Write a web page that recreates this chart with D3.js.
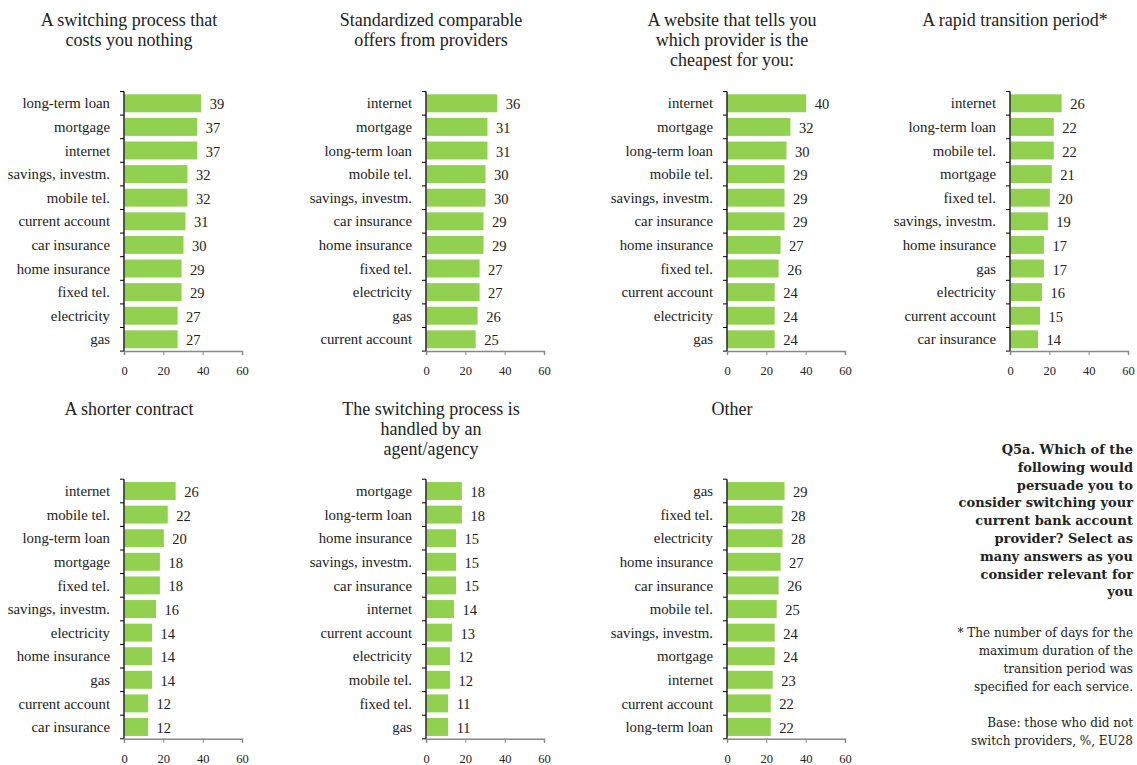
<!DOCTYPE html>
<html>
<head>
<meta charset="utf-8">
<script src="https://cdn.jsdelivr.net/npm/d3@7"></script>
<style>
  html, body { margin: 0; padding: 0; background: #fff; }
  svg { display: block; }
  text { font-family: "Liberation Serif", "DejaVu Serif", serif; fill: #222; }
</style>
</head>
<body>
<svg id="chart" width="1137" height="765"></svg>
<script>
// Share of respondents (%) persuaded by each measure, per service
const titles = [
  ["A switching process that", "costs you nothing"],
  ["Standardized comparable", "offers from providers"],
  ["A website that tells you", "which provider is the", "cheapest for you:"],
  ["A rapid transition period*"],
  ["A shorter contract"],
  ["The switching process is", "handled by an", "agent/agency"],
  ["Other"]
];

const costsNothingCats = ["long-term loan", "mortgage", "internet", "savings, investm.", "mobile tel.", "current account", "car insurance", "home insurance", "fixed tel.", "electricity", "gas"];
const costsNothingVals = [39, 37, 37, 32, 32, 31, 30, 29, 29, 27, 27];

const comparableCats = ["internet", "mortgage", "long-term loan", "mobile tel.", "savings, investm.", "car insurance", "home insurance", "fixed tel.", "electricity", "gas", "current account"];
const comparableVals = [36, 31, 31, 30, 30, 29, 29, 27, 27, 26, 25];

const websiteCats = ["internet", "mortgage", "long-term loan", "mobile tel.", "savings, investm.", "car insurance", "home insurance", "fixed tel.", "current account", "electricity", "gas"];
const websiteVals = [40, 32, 30, 29, 29, 29, 27, 26, 24, 24, 24];

const rapidCats = ["internet", "long-term loan", "mobile tel.", "mortgage", "fixed tel.", "savings, investm.", "home insurance", "gas", "electricity", "current account", "car insurance"];
const rapidVals = [26, 22, 22, 21, 20, 19, 17, 17, 16, 15, 14];

const shorterCats = ["internet", "mobile tel.", "long-term loan", "mortgage", "fixed tel.", "savings, investm.", "electricity", "home insurance", "gas", "current account", "car insurance"];
const shorterVals = [26, 22, 20, 18, 18, 16, 14, 14, 14, 12, 12];

const agentCats = ["mortgage", "long-term loan", "home insurance", "savings, investm.", "car insurance", "internet", "current account", "electricity", "mobile tel.", "fixed tel.", "gas"];
const agentVals = [18, 18, 15, 15, 15, 14, 13, 12, 12, 11, 11];

const otherCats = ["gas", "fixed tel.", "electricity", "home insurance", "car insurance", "mobile tel.", "savings, investm.", "mortgage", "internet", "current account", "long-term loan"];
const otherVals = [29, 28, 28, 27, 26, 25, 24, 24, 23, 22, 22];

const xTicks = [0, 20, 40, 60];

const questionLines = [
  "Q5a. Which of the", "following would", "persuade you to", "consider switching your",
  "current bank account", "provider? Select as", "many answers as you",
  "consider relevant for", "you"
];
const noteLines = [
  "* The number of days for the", "maximum duration of the", "transition period was",
  "specified for each service.", "", "Base: those who did not", "switch providers, %, EU28"
];

const panels = [
  { cats: costsNothingCats, vals: costsNothingVals },
  { cats: comparableCats, vals: comparableVals },
  { cats: websiteCats, vals: websiteVals },
  { cats: rapidCats, vals: rapidVals },
  { cats: shorterCats, vals: shorterVals },
  { cats: agentCats, vals: agentVals },
  { cats: otherCats, vals: otherVals }
].map((p, i) => ({ ...p, title: titles[i] }));

// Grid layout: plot origin (left axis x) and top of plot area per panel
const colX = [124, 426, 727, 1010];
const rowTop = [91.5, 479.2];
const rowTitleY = [26, 415];
const plotW = 118, plotH = 259.6;
const green = "#92D050";

const svg = d3.select("#chart");

panels.forEach((p, i) => {
  const col = i % 4, row = Math.floor(i / 4);
  const ox = colX[col], oy = rowTop[row];

  const x = d3.scaleLinear().domain([0, 60]).range([0, plotW]);
  const y = d3.scaleBand().domain(p.cats).range([0, plotH]).paddingInner(0.24).paddingOuter(0.12);

  // Title
  const t = svg.append("text")
    .attr("x", ox + 5).attr("y", rowTitleY[row])
    .attr("text-anchor", "middle")
    .style("font-size", "18px");
  p.title.forEach((line, k) => {
    t.append("tspan").attr("x", ox + 5).attr("dy", k === 0 ? 0 : 20).text(line);
  });

  const g = svg.append("g").attr("transform", `translate(${ox},${oy})`);

  // Bars
  g.selectAll("rect").data(p.vals).join("rect")
    .attr("x", 0.5)
    .attr("y", (d, k) => y(p.cats[k]))
    .attr("width", d => x(d))
    .attr("height", y.bandwidth())
    .attr("fill", green);

  // Value labels
  g.selectAll("text.val").data(p.vals).join("text")
    .attr("class", "val")
    .attr("x", d => x(d) + 9)
    .attr("y", (d, k) => y(p.cats[k]) + y.bandwidth() / 2 + 1)
    .attr("dy", "0.35em")
    .style("font-size", "14.5px")
    .text(d => d);

  // Category axis: labels plus ticks at band boundaries
  const bounds = d3.range(p.cats.length + 1).map(k => k * plotH / p.cats.length);
  g.selectAll("line.ytick").data(bounds).join("line")
    .attr("x1", -4).attr("x2", 0)
    .attr("y1", d => d).attr("y2", d => d)
    .attr("stroke", "#000").attr("stroke-width", 1);
  g.append("line")
    .attr("x1", 0).attr("x2", 0).attr("y1", 0).attr("y2", plotH)
    .attr("stroke", "#000").attr("stroke-width", 1.3);
  g.selectAll("text.cat").data(p.cats).join("text")
    .attr("class", "cat")
    .attr("x", -14)
    .attr("y", d => y(d) + y.bandwidth() / 2)
    .attr("dy", "0.35em")
    .attr("text-anchor", "end")
    .style("font-size", "14.8px")
    .text(d => d);

  // Value axis
  const xa = g.append("g")
    .attr("transform", `translate(0,${plotH})`)
    .call(d3.axisBottom(x).tickValues(xTicks).tickSize(4).tickPadding(11).tickFormat(d3.format("d")));
  xa.select(".domain").attr("stroke", "#888").attr("stroke-width", 1.5);
  xa.selectAll(".tick line").attr("stroke", "#888");
  xa.selectAll(".tick text")
    .style("font-family", "'Liberation Serif', serif")
    .style("font-size", "12.5px").attr("fill", "#222");
});

// Question and notes in the last cell
const textRight = 1133;
const q = svg.append("text")
  .attr("x", textRight).attr("y", 454)
  .attr("text-anchor", "end")
  .style("font-family", "'DejaVu Serif', serif")
  .style("font-size", "13px").style("font-weight", "bold");
questionLines.forEach((line, k) => {
  q.append("tspan").attr("x", textRight).attr("dy", k === 0 ? 0 : 17.8).text(line);
});

const n = svg.append("text")
  .attr("x", textRight).attr("y", 637)
  .attr("text-anchor", "end")
  .style("font-family", "'DejaVu Serif', serif")
  .style("font-size", "12px");
noteLines.forEach((line, k) => {
  n.append("tspan").attr("x", textRight).attr("dy", k === 0 ? 0 : 18).text(line || " ");
});
</script>
</body>
</html>
